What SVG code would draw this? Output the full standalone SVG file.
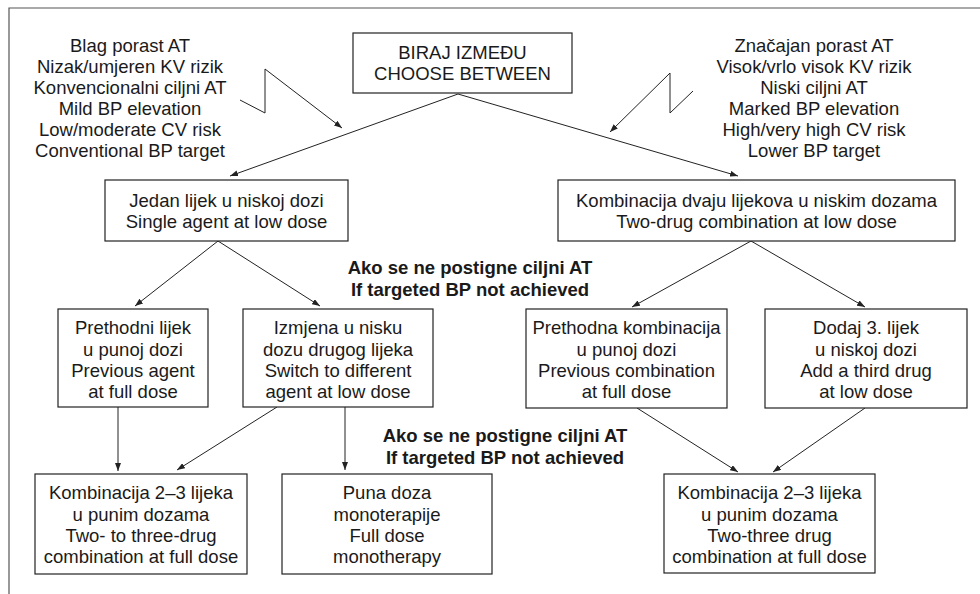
<svg xmlns="http://www.w3.org/2000/svg" width="980" height="594" viewBox="0 0 980 594">
<style>
  .box { fill: #fff; stroke: #222; stroke-width: 1.2; }
  .t { font-family: "Liberation Sans", Arial, sans-serif; font-size: 18.5px; fill: #1a1a1a; text-anchor: middle; }
  .b { font-family: "Liberation Sans", Arial, sans-serif; font-size: 18.5px; font-weight: bold; fill: #1a1a1a; text-anchor: middle; }
  .c { fill: none; stroke: #222; stroke-width: 1; }
  .frame { fill: none; stroke: #555; stroke-width: 1.2; }
</style>
<defs>
  <marker id="ah" viewBox="0 0 8 6" markerWidth="8" markerHeight="6" refX="8" refY="3" orient="auto" markerUnits="userSpaceOnUse">
    <path d="M0,0 L8,3 L0,6 z" fill="#222"/>
  </marker>
</defs>
<rect width="980" height="594" fill="#fff"/>
<path class="frame" d="M9,594 V8 H980"/>

<g id="connectors">
  <polyline class="c" points="240,100 265,113 265,69 342,128" marker-end="url(#ah)"/>
  <polyline class="c" points="693,91 670,113 670,73 610,132" marker-end="url(#ah)"/>
  <line class="c" x1="458" y1="94" x2="230" y2="176" marker-end="url(#ah)"/>
  <line class="c" x1="458" y1="94" x2="738" y2="176" marker-end="url(#ah)"/>
  <line class="c" x1="218" y1="241" x2="135" y2="306" marker-end="url(#ah)"/>
  <line class="c" x1="218" y1="241" x2="320" y2="306" marker-end="url(#ah)"/>
  <line class="c" x1="751" y1="241" x2="632" y2="307" marker-end="url(#ah)"/>
  <line class="c" x1="751" y1="241" x2="865" y2="307" marker-end="url(#ah)"/>
  <line class="c" x1="118" y1="407" x2="118" y2="471" marker-end="url(#ah)"/>
  <line class="c" x1="277" y1="407" x2="177" y2="470" marker-end="url(#ah)"/>
  <line class="c" x1="345" y1="407" x2="345" y2="470" marker-end="url(#ah)"/>
  <line class="c" x1="637" y1="408" x2="738" y2="472" marker-end="url(#ah)"/>
  <line class="c" x1="865" y1="408" x2="773" y2="472" marker-end="url(#ah)"/>
</g>

<g id="criteria-left">
  <text class="t" x="130" y="52">Blag porast AT</text>
  <text class="t" x="130" y="73">Nizak/umjeren KV rizik</text>
  <text class="t" x="130" y="94">Konvencionalni ciljni AT</text>
  <text class="t" x="130" y="115">Mild BP elevation</text>
  <text class="t" x="130" y="136">Low/moderate CV risk</text>
  <text class="t" x="130" y="157">Conventional BP target</text>
</g>
<g id="criteria-right">
  <text class="t" x="814" y="52">Značajan porast AT</text>
  <text class="t" x="814" y="73">Visok/vrlo visok KV rizik</text>
  <text class="t" x="814" y="94">Niski ciljni AT</text>
  <text class="t" x="814" y="115">Marked BP elevation</text>
  <text class="t" x="814" y="136">High/very high CV risk</text>
  <text class="t" x="814" y="157">Lower BP target</text>
</g>

<g id="choose">
  <rect class="box" x="353" y="33" width="219" height="60"/>
  <text class="t" x="462.5" y="59">BIRAJ IZMEĐU</text>
  <text class="t" x="462.5" y="80">CHOOSE BETWEEN</text>
</g>

<g id="single">
  <rect class="box" x="105" y="180" width="243" height="61"/>
  <text class="t" x="226.5" y="207">Jedan lijek u niskoj dozi</text>
  <text class="t" x="226.5" y="228">Single agent at low dose</text>
</g>
<g id="twodrug">
  <rect class="box" x="558" y="180" width="397" height="61"/>
  <text class="t" x="756.5" y="207">Kombinacija dvaju lijekova u niskim dozama</text>
  <text class="t" x="756.5" y="228">Two-drug combination at low dose</text>
</g>

<g id="label1">
  <text class="b" x="470" y="274">Ako se ne postigne ciljni AT</text>
  <text class="b" x="470" y="296">If targeted BP not achieved</text>
</g>

<g id="prev-agent">
  <rect class="box" x="58" y="309" width="150" height="98"/>
  <text class="t" x="133" y="334">Prethodni lijek</text>
  <text class="t" x="133" y="355.5">u punoj dozi</text>
  <text class="t" x="133" y="377">Previous agent</text>
  <text class="t" x="133" y="398">at full dose</text>
</g>
<g id="switch">
  <rect class="box" x="243" y="309" width="190" height="98"/>
  <text class="t" x="338" y="334">Izmjena u nisku</text>
  <text class="t" x="338" y="355.5">dozu drugog lijeka</text>
  <text class="t" x="338" y="377">Switch to different</text>
  <text class="t" x="338" y="398">agent at low dose</text>
</g>
<g id="prev-combo">
  <rect class="box" x="526" y="309" width="201" height="99"/>
  <text class="t" x="626.5" y="334">Prethodna kombinacija</text>
  <text class="t" x="626.5" y="355.5">u punoj dozi</text>
  <text class="t" x="626.5" y="377">Previous combination</text>
  <text class="t" x="626.5" y="398">at full dose</text>
</g>
<g id="third">
  <rect class="box" x="765" y="309" width="202" height="99"/>
  <text class="t" x="866" y="334">Dodaj 3. lijek</text>
  <text class="t" x="866" y="355.5">u niskoj dozi</text>
  <text class="t" x="866" y="377">Add a third drug</text>
  <text class="t" x="866" y="398">at low dose</text>
</g>

<g id="label2">
  <text class="b" x="505" y="442">Ako se ne postigne ciljni AT</text>
  <text class="b" x="505" y="464">If targeted BP not achieved</text>
</g>

<g id="combo-left">
  <rect class="box" x="35" y="474" width="212" height="100"/>
  <text class="t" x="141" y="499">Kombinacija 2–3 lijeka</text>
  <text class="t" x="141" y="520.5">u punim dozama</text>
  <text class="t" x="141" y="542">Two- to three-drug</text>
  <text class="t" x="141" y="563">combination at full dose</text>
</g>
<g id="mono">
  <rect class="box" x="282" y="474" width="210" height="100"/>
  <text class="t" x="387" y="499">Puna doza</text>
  <text class="t" x="387" y="520.5">monoterapije</text>
  <text class="t" x="387" y="542">Full dose</text>
  <text class="t" x="387" y="563">monotherapy</text>
</g>
<g id="combo-right">
  <rect class="box" x="664" y="474" width="211" height="99"/>
  <text class="t" x="769.5" y="499">Kombinacija 2–3 lijeka</text>
  <text class="t" x="769.5" y="520.5">u punim dozama</text>
  <text class="t" x="769.5" y="542">Two-three drug</text>
  <text class="t" x="769.5" y="563">combination at full dose</text>
</g>
</svg>
